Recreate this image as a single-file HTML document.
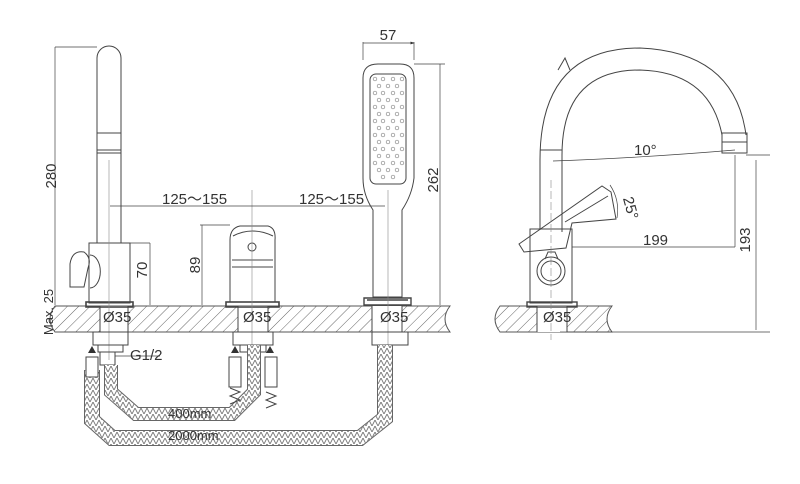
<!DOCTYPE html>
<html><head><meta charset="utf-8"><style>
html,body{margin:0;padding:0;background:#fff;}
svg{display:block;}
text{font-family:"Liberation Sans",sans-serif;fill:#333;}
</style></head><body>
<svg width="800" height="484" viewBox="0 0 800 484" xmlns="http://www.w3.org/2000/svg">
<defs>
<pattern id="h" width="8" height="8" patternUnits="userSpaceOnUse" patternTransform="rotate(45)">
<line x1="0" y1="0" x2="0" y2="8" stroke="#666" stroke-width="1"/>
</pattern>
<pattern id="hose" width="6" height="6" patternUnits="userSpaceOnUse">
<path d="M0 6 L3 0 L6 6" stroke="#777" fill="none" stroke-width="0.9"/>
</pattern>
<marker id="a" markerWidth="6" markerHeight="6" refX="5" refY="3" orient="auto"><path d="M0 1 L6 3 L0 5z" fill="#333"/></marker>
</defs>
<g stroke="#444" stroke-width="1" fill="none">
<path d="M55 306 H450 Q440 319 450 332 H55 Q45 319 55 306Z" fill="url(#h)" stroke="#555"/>
<path d="M500 306 H612 Q602 319 612 332 H500 Q490 319 500 306Z" fill="url(#h)" stroke="#555"/>
<rect x="100" y="306" width="28" height="26" fill="#fff" stroke="none"/>
<rect x="238" y="306" width="30" height="26" fill="#fff" stroke="none"/>
<rect x="372" y="306" width="30" height="26" fill="#fff" stroke="none"/>
<rect x="537" y="306" width="30" height="26" fill="#fff" stroke="none"/>
<path d="M100 306V332M128 306V332M238 306V332M268 306V332M372 306V332M402 306V332M537 306V332M567 306V332"/>
<!-- left faucet -->
<path d="M97 243 V58 A12 12 0 0 1 121 58 V243"/>
<path d="M97 133 H121 M97 150 H121 M97 153 H121"/>
<rect x="89" y="243" width="41" height="60"/>
<rect x="86" y="302" width="47" height="5" stroke-width="1.6"/>
<path d="M90 255 A10 16 0 0 1 90 288"/>
<path d="M70 287 V264 Q72 250 84 252 Q92 258 88 268 L84 287Z"/>
<path d="M109 160 V360" stroke="#888" stroke-width="0.6"/>
<path d="M55 47 H97 M55 47 V305" stroke-width="0.7"/>
<path d="M130 243 H150 M150 243 V305" stroke-width="0.7"/>
<path d="M93 332 H128 V345 H93Z M98 345 V352 H123 V345"/>
<path d="M100 352 V365 H115 V352"/>
<path d="M115 356 H160" stroke-width="0.7"/>
<!-- center valve -->
<path d="M230 302 V240 Q230 228 240 226 H268 Q276 228 275 240 V302"/>
<path d="M232 260 H273 M232 267 H273"/>
<path d="M233 236 Q252 226 273 236" />
<circle cx="252" cy="247" r="4"/>
<rect x="226" y="302" width="53" height="5" stroke-width="1.6"/>
<path d="M252 190 V350" stroke="#888" stroke-width="0.6"/>
<path d="M200 225 H230 M202 225 V305" stroke-width="0.7"/>
<path d="M233 332 H273 V345 H233Z M240 345 V352 H266 V345"/>
<!-- hand shower -->
<path d="M363 178 V78 Q363 64 378 64 H400 Q414 64 414 78 V178 Q412 195 402 210 V297 H373 V210 Q363 195 363 178Z"/>
<rect x="370" y="74" width="36" height="110" rx="6"/>
<path d="M367 300 H408 M364 298 H411 V305 H364Z" stroke-width="1.4"/>
<path d="M388 190 V350" stroke="#888" stroke-width="0.6"/>
<path d="M363 60 V42 M414 60 V42" stroke-width="0.7"/>
<path d="M363 43 H414" stroke-width="0.7" marker-end="url(#a)"/>
<path d="M414 64 H445 M440 64 V305" stroke-width="0.7"/>
<path d="M372 332 H408 V345 H372Z"/>
<path d="M110 206 H385" stroke-width="0.7"/>
<!-- right faucet -->
<path d="M540 230 V160 Q540 48 640 48 Q735 52 746 135"/>
<path d="M562 232 V155 Q562 70 640 70 Q710 72 722 135"/>
<path d="M540 150 H562"/>
<rect x="722" y="133" width="25" height="20"/>
<path d="M722 142 H747"/>
<path d="M558 70 L565 58 L570 70" />
<rect x="530" y="229" width="42" height="74"/>
<circle cx="551" cy="271" r="14"/><circle cx="551" cy="271" r="10"/>
<path d="M545 259 L548 252 H555 L558 259"/>
<rect x="527" y="302" width="50" height="5" stroke-width="1.4"/>
<path d="M519 244 L602 186 L611 192 L616 219 L572 223 L566 248 L524 252Z"/>
<path d="M565 222 L608 196"/>
<path d="M551 180 V340" stroke="#888" stroke-width="0.6" stroke-dasharray="8 3"/>
<path d="M553 161 Q640 158 735 150" stroke-width="0.7"/>
<path d="M572 247 H735 M735 155 V247" stroke-width="0.7"/>
<path d="M746 155 H770 M756 160 V330 M560 332 H770" stroke-width="0.7"/>
<path d="M610 185 Q620 200 617 218" stroke-width="0.7"/>
<!-- hoses -->
<path d="M385 345 V418 L360 438 H112 L92 420 V370" stroke="#666" stroke-width="16"/>
<path d="M385 345 V418 L360 438 H112 L92 420 V370" stroke="#fff" stroke-width="14"/>
<path d="M385 345 V418 L360 438 H112 L92 420 V370" stroke="url(#hose)" stroke-width="14"/>
<path d="M254 345 V392 L232 414 H136 L111 392 V365" stroke="#666" stroke-width="14"/>
<path d="M254 345 V392 L232 414 H136 L111 392 V365" stroke="#fff" stroke-width="12"/>
<path d="M254 345 V392 L232 414 H136 L111 392 V365" stroke="url(#hose)" stroke-width="12"/>
<rect x="86" y="357" width="12" height="20" fill="#fff"/>
<rect x="229" y="357" width="12" height="30" fill="#fff"/>
<rect x="265" y="357" width="12" height="30" fill="#fff"/>
<path d="M230 388 L240 392 L230 396 L240 400 L230 404 M266 392 L276 396 L266 400 L276 404 L266 408"/>
</g>
<g fill="#333">
<path d="M92 346 L88 353 H96Z M235 346 L231 353 H239Z M270 346 L266 353 H274Z"/>
</g>
<g fill="none" stroke="#888" stroke-width="0.7">
<circle cx="375" cy="79" r="1.8"/><circle cx="383" cy="79" r="1.8"/><circle cx="393" cy="79" r="1.8"/><circle cx="402" cy="79" r="1.8"/>
<circle cx="379" cy="86" r="1.8"/><circle cx="388" cy="86" r="1.8"/><circle cx="397" cy="86" r="1.8"/>
<circle cx="375" cy="93" r="1.8"/><circle cx="383" cy="93" r="1.8"/><circle cx="393" cy="93" r="1.8"/><circle cx="402" cy="93" r="1.8"/>
<circle cx="379" cy="100" r="1.8"/><circle cx="388" cy="100" r="1.8"/><circle cx="397" cy="100" r="1.8"/>
<circle cx="375" cy="107" r="1.8"/><circle cx="383" cy="107" r="1.8"/><circle cx="393" cy="107" r="1.8"/><circle cx="402" cy="107" r="1.8"/>
<circle cx="379" cy="114" r="1.8"/><circle cx="388" cy="114" r="1.8"/><circle cx="397" cy="114" r="1.8"/>
<circle cx="375" cy="121" r="1.8"/><circle cx="383" cy="121" r="1.8"/><circle cx="393" cy="121" r="1.8"/><circle cx="402" cy="121" r="1.8"/>
<circle cx="379" cy="128" r="1.8"/><circle cx="388" cy="128" r="1.8"/><circle cx="397" cy="128" r="1.8"/>
<circle cx="375" cy="135" r="1.8"/><circle cx="383" cy="135" r="1.8"/><circle cx="393" cy="135" r="1.8"/><circle cx="402" cy="135" r="1.8"/>
<circle cx="379" cy="142" r="1.8"/><circle cx="388" cy="142" r="1.8"/><circle cx="397" cy="142" r="1.8"/>
<circle cx="375" cy="149" r="1.8"/><circle cx="383" cy="149" r="1.8"/><circle cx="393" cy="149" r="1.8"/><circle cx="402" cy="149" r="1.8"/>
<circle cx="379" cy="156" r="1.8"/><circle cx="388" cy="156" r="1.8"/><circle cx="397" cy="156" r="1.8"/>
<circle cx="375" cy="163" r="1.8"/><circle cx="383" cy="163" r="1.8"/><circle cx="393" cy="163" r="1.8"/><circle cx="402" cy="163" r="1.8"/>
<circle cx="379" cy="170" r="1.8"/><circle cx="388" cy="170" r="1.8"/><circle cx="397" cy="170" r="1.8"/>
<circle cx="383" cy="177" r="1.8"/><circle cx="393" cy="177" r="1.8"/>
</g>
<g font-size="15">
<text x="51" y="176" transform="rotate(-90 51 176)" text-anchor="middle" dy="5">280</text>
<text x="48" y="312" transform="rotate(-90 48 312)" text-anchor="middle" dy="5" font-size="13">Max. 25</text>
<text x="142" y="270" transform="rotate(-90 142 270)" text-anchor="middle" dy="5">70</text>
<text x="195" y="265" transform="rotate(-90 195 265)" text-anchor="middle" dy="5">89</text>
<text x="433" y="180" transform="rotate(-90 433 180)" text-anchor="middle" dy="5">262</text>
<text x="745" y="240" transform="rotate(-90 745 240)" text-anchor="middle" dy="5">193</text>
<text x="162" y="204">125～155</text>
<text x="299" y="204">125～155</text>
<text x="388" y="40" text-anchor="middle">57</text>
<text x="103" y="322">Ø35</text>
<text x="243" y="322">Ø35</text>
<text x="380" y="322">Ø35</text>
<text x="543" y="322">Ø35</text>
<text x="130" y="360" font-family="Liberation Mono,monospace">G1/2</text>
<text x="168" y="418" font-family="Liberation Mono,monospace" font-size="13">400mm</text>
<text x="168" y="440" font-family="Liberation Mono,monospace" font-size="13">2000mm</text>
<text x="634" y="155">10°</text>
<text x="643" y="245">199</text>
<text x="617" y="206" transform="rotate(75 625 206)">25°</text>
</g>
</svg>
</body></html>
